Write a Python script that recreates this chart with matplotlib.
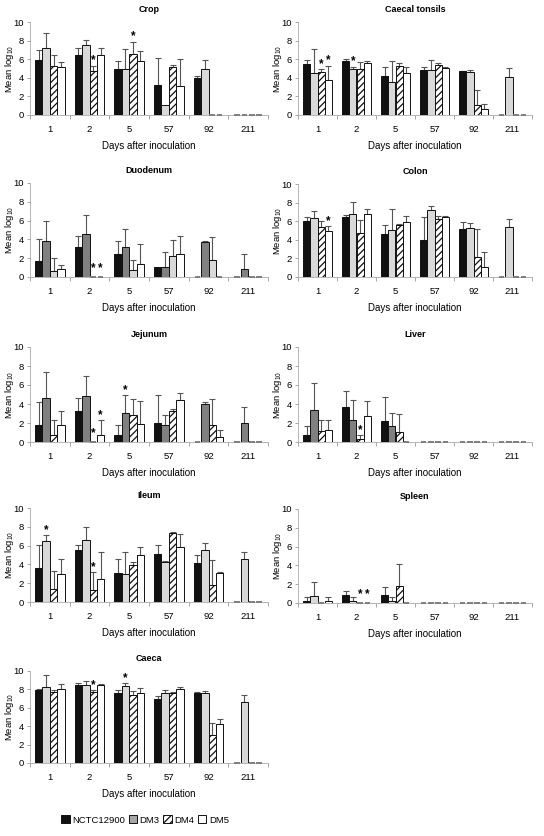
import matplotlib
matplotlib.use("Agg")
import matplotlib.pyplot as plt
import numpy as np
from matplotlib.patches import Patch

plt.rcParams['font.family'] = ['Liberation Sans', 'DejaVu Sans']
plt.rcParams['mathtext.default'] = 'regular'
plt.rcParams['hatch.linewidth'] = 0.9

days = ["1", "2", "5", "57", "92", "211"]
strains = ["NCTC12900", "DM3", "DM4", "DM5"]

# ---- data: means and upper SD per strain (order of days) ----
crop_mean = [[5.9, 6.5, 5.0, 3.2, 4.0, 0], [7.2, 7.5, 4.9, 1.1, 5.0, 0],
             [5.3, 4.7, 6.6, 5.2, 0, 0], [5.2, 6.5, 5.8, 3.1, 0, 0]]
crop_sd = [[1.1, 0.7, 0.8, 2.9, 0.2, 0], [1.6, 0.6, 2.2, 0, 0.9, 0],
           [1.1, 0.6, 1.3, 0.2, 0, 0], [0.5, 0.7, 1.1, 2.9, 0, 0]]
crop_sig = [(1, 2), (2, 2)]

tons_mean = [[5.5, 5.8, 4.2, 4.8, 4.7, 0], [4.5, 4.9, 3.5, 4.8, 4.6, 4.1],
             [4.6, 4.9, 5.3, 5.4, 1.1, 0], [3.8, 5.6, 4.5, 5.1, 0.6, 0]]
tons_sd = [[0.4, 0.2, 1.0, 0.4, 0.05, 0], [2.6, 0.3, 2.3, 1.1, 0.2, 1.0],
           [0.3, 0.8, 0.3, 0.2, 1.6, 0], [1.5, 0.2, 0.7, 0.05, 0.6, 0]]
tons_sig = [(0, 2), (0, 3), (1, 1)]

duod_mean = [[1.7, 3.2, 2.4, 1.1, 0, 0], [3.8, 4.6, 3.2, 1.1, 3.7, 0.9],
             [0.6, 0, 0.7, 2.2, 1.8, 0], [0.8, 0, 1.4, 2.5, 0, 0]]
duod_sd = [[2.3, 1.2, 1.4, 0, 0, 0], [2.2, 2.0, 1.9, 1.6, 0.1, 1.6],
           [1.4, 0, 1.1, 1.7, 2.5, 0], [0.5, 0, 2.1, 1.9, 0, 0]]
duod_sig = [(1, 2), (1, 3)]

colon_mean = [[6.0, 6.5, 4.6, 4.0, 5.2, 0], [6.3, 6.8, 5.1, 7.2, 5.3, 5.4],
              [5.4, 4.7, 5.6, 6.2, 2.1, 0], [5.0, 6.8, 5.9, 6.4, 1.1, 0]]
colon_sd = [[0.4, 0.2, 1.0, 2.5, 0.7, 0], [0.8, 1.3, 2.2, 0.4, 0.5, 0.8],
            [0.6, 1.4, 0.1, 0.4, 3.1, 0], [0.5, 0.5, 0.7, 0.2, 1.6, 0]]
colon_sig = [(0, 3)]

jej_mean = [[1.8, 3.3, 0.7, 2.0, 0, 0], [4.6, 4.8, 3.1, 1.8, 4.0, 2.0],
            [0.7, 0, 2.8, 3.3, 1.8, 0], [1.8, 0.7, 1.9, 4.4, 0.5, 0]]
jej_sd = [[2.4, 1.3, 1.1, 2.9, 0, 0], [2.8, 2.1, 1.8, 1.0, 0.2, 1.7],
          [1.6, 0, 1.7, 0.2, 2.7, 0], [1.5, 1.6, 2.4, 0.8, 0.8, 0]]
jej_sig = [(1, 2), (1, 3), (2, 1)]

liver_mean = [[0.7, 3.7, 2.2, 0, 0, 0], [3.4, 2.3, 1.7, 0, 0, 0],
              [1.2, 0.3, 1.1, 0, 0, 0], [1.3, 2.7, 0, 0, 0, 0]]
liver_sd = [[1.0, 1.7, 2.5, 0, 0, 0], [2.8, 2.1, 1.4, 0, 0, 0],
            [1.1, 0.4, 1.9, 0, 0, 0], [1.0, 1.6, 0, 0, 0, 0]]
liver_sig = [(1, 2)]

ileum_mean = [[3.6, 5.5, 3.1, 5.1, 4.1, 0], [6.5, 6.6, 3.0, 4.3, 5.5, 4.6],
              [1.4, 1.3, 3.9, 7.3, 1.8, 0], [3.0, 2.5, 5.0, 5.8, 3.1, 0]]
ileum_sd = [[2.5, 0.6, 1.5, 1.0, 0.9, 0], [0.6, 1.4, 2.3, 0.1, 0.8, 0.7],
            [1.9, 1.9, 0.4, 0.1, 2.7, 0], [1.6, 2.8, 0.8, 1.4, 0.1, 0]]
ileum_sig = [(0, 1), (1, 2)]

spleen_mean = [[0.2, 0.8, 0.8, 0, 0, 0], [0.7, 0.2, 0.2, 0, 0, 0],
               [0, 0, 1.8, 0, 0, 0], [0.2, 0, 0, 0, 0, 0]]
spleen_sd = [[0.4, 0.5, 0.9, 0, 0, 0], [1.5, 0.4, 0.4, 0, 0, 0],
             [0, 0, 2.4, 0, 0, 0], [0.4, 0, 0, 0, 0, 0]]
spleen_sig = [(1, 2), (1, 3)]

caeca_mean = [[7.9, 8.5, 7.6, 7.0, 7.6, 0], [8.3, 8.5, 8.4, 7.6, 7.6, 6.6],
              [7.7, 7.7, 7.4, 7.6, 3.0, 0], [8.0, 8.5, 7.6, 8.0, 4.2, 0]]
caeca_sd = [[0.1, 0.2, 0.3, 0.3, 0.1, 0], [1.3, 0.4, 0.3, 0.3, 0.2, 0.8],
            [0.2, 0.2, 0.4, 0.1, 1.3, 0], [0.6, 0.1, 0.6, 0.3, 0.6, 0]]
caeca_sig = [(1, 2), (2, 1)]

# ---- styles ----
BLACK = dict(color='#111111', hatch=None)
LGRAY = dict(color='#d9d9d9', hatch=None)
DGRAY = dict(color='#808080', hatch=None)
HATCH = dict(color='white', hatch='/////')
WHITE = dict(color='white', hatch=None)

W, H = 544, 836
fig = plt.figure(figsize=(W / 100, H / 100), dpi=100)

def make_axes(x0, x1, ytop, ybot):
    return fig.add_axes([x0 / W, 1 - ybot / H, (x1 - x0) / W, (ybot - ytop) / H])

panels = [
    ("Crop", crop_mean, crop_sd, crop_sig, (30, 268, 22, 115), [BLACK, LGRAY, HATCH, WHITE]),
    ("Caecal tonsils", tons_mean, tons_sd, tons_sig, (298, 532, 22, 115), [BLACK, LGRAY, HATCH, WHITE]),
    ("Duodenum", duod_mean, duod_sd, duod_sig, (30, 268, 183, 277), [BLACK, DGRAY, LGRAY, WHITE]),
    ("Colon", colon_mean, colon_sd, colon_sig, (298, 532, 184, 277), [BLACK, LGRAY, HATCH, WHITE]),
    ("Jejunum", jej_mean, jej_sd, jej_sig, (30, 268, 347, 442), [BLACK, DGRAY, HATCH, WHITE]),
    ("Liver", liver_mean, liver_sd, liver_sig, (298, 532, 347, 442), [BLACK, DGRAY, HATCH, WHITE]),
    ("Ileum", ileum_mean, ileum_sd, ileum_sig, (30, 268, 508, 602), [BLACK, LGRAY, HATCH, WHITE]),
    ("Spleen", spleen_mean, spleen_sd, spleen_sig, (298, 532, 509, 603), [BLACK, LGRAY, HATCH, WHITE]),
    ("Caeca", caeca_mean, caeca_sd, caeca_sig, (30, 268, 671, 763), [BLACK, LGRAY, HATCH, WHITE]),
]

bw = 0.185
x = np.arange(len(days))
for title, means, sds, sigs, box, styles in panels:
    ax = make_axes(*box)
    for k in range(4):
        m = np.array(means[k], dtype=float)
        s = np.array(sds[k], dtype=float)
        xs = x + (k - 1.5) * bw
        st = styles[k]
        zero = m == 0
        ax.bar(xs[~zero], m[~zero], width=bw, color=st['color'], edgecolor='#111111',
               linewidth=0.7, hatch=st['hatch'], zorder=2)
        ax.bar(xs[zero], m[zero], width=bw * 0.75, color='none', edgecolor='#777777',
               linewidth=1.3, zorder=4, clip_on=False)
        has = s > 0
        if has.any():
            ax.errorbar(xs[has], m[has], yerr=[np.zeros(has.sum()), s[has]], fmt='none',
                        ecolor='#555555', elinewidth=0.8, capsize=2, capthick=0.8, zorder=1)
    for (g, k) in sigs:
        top = means[k][g] + sds[k][g]
        y = max(top + 0.55, 0.9)
        ax.text(x[g] + (k - 1.5) * bw, y, '*', ha='center', va='center', fontsize=8.5,
                fontweight='bold', zorder=3)
    ax.set_xlim(-0.5, len(days) - 0.5)
    ax.set_ylim(0, 10)
    ax.set_yticks([0, 2, 4, 6, 8, 10])
    ax.set_xticks(x)
    ax.set_xticklabels(days)
    ax.set_xticks(np.arange(-0.5, len(days), 1.0), minor=True)
    ax.tick_params(axis='x', which='major', length=0, labelsize=6.8, pad=7)
    ax.tick_params(axis='x', which='minor', length=3, color='#999999', width=0.6)
    ax.tick_params(axis='y', length=2.5, color='#999999', width=0.6, labelsize=6.8, pad=2)
    for sp in ['top', 'right']:
        ax.spines[sp].set_visible(False)
    for sp in ['left', 'bottom']:
        ax.spines[sp].set_color('#aaaaaa')
        ax.spines[sp].set_linewidth(0.6)
    ax.set_title(title, fontsize=6.5, fontweight='bold', pad=7)
    ax.set_xlabel('Days after inoculation', fontsize=7, labelpad=5)
    ax.set_ylabel('Mean log$_{10}$', fontsize=6.8)
    ax.yaxis.set_label_coords(-14.0 / (box[1] - box[0]), 0.5)

handles = [Patch(facecolor='#111111', edgecolor='#111111', linewidth=0.7),
           Patch(facecolor='#a6a6a6', edgecolor='#111111', linewidth=0.7),
           Patch(facecolor='white', edgecolor='#111111', hatch='/////', linewidth=0.7),
           Patch(facecolor='white', edgecolor='#111111', linewidth=0.7)]
fig.legend(handles, strains, loc='center', bbox_to_anchor=(145 / W, 1 - 820 / H), ncol=4,
           frameon=False, fontsize=6.8, handlelength=0.9, handleheight=0.9,
           handletextpad=0.25, columnspacing=0.4, borderaxespad=0)

fig.savefig('out.png', dpi=100)
